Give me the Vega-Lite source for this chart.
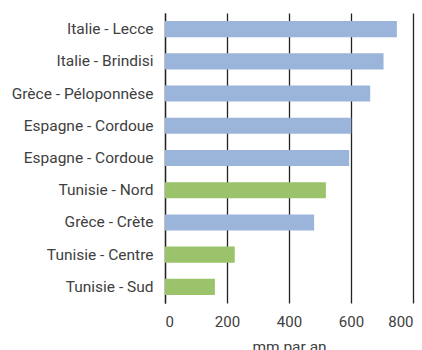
{
  "$schema": "https://vega.github.io/schema/vega-lite/v6.json",
  "width": 248,
  "height": 290,
  "autosize": {"type": "none"},
  "padding": {"left": 165, "top": 13, "right": 9, "bottom": 47},
  "background": "white",
  "config": {
    "view": {"stroke": null},
    "font": "Roboto",
    "axis": {"labelFont": "Roboto", "titleFont": "Roboto"}
  },
  "data": {
    "values": [
      {"lieu": "Italie - Lecce", "region": "Europe", "mm": 748},
      {"lieu": "Italie - Brindisi", "region": "Europe", "mm": 705},
      {"lieu": "Grèce - Péloponnèse", "region": "Europe", "mm": 662},
      {"lieu": "Espagne - Cordoue", "region": "Europe", "mm": 601},
      {"lieu": "Espagne - Cordoue 2", "region": "Europe", "mm": 594},
      {"lieu": "Tunisie - Nord", "region": "Tunisie", "mm": 519},
      {"lieu": "Grèce - Crète", "region": "Europe", "mm": 481},
      {"lieu": "Tunisie - Centre", "region": "Tunisie", "mm": 225},
      {"lieu": "Tunisie - Sud", "region": "Tunisie", "mm": 161}
    ]
  },
  "mark": {"type": "bar"},
  "encoding": {
    "y": {
      "field": "lieu",
      "type": "nominal",
      "sort": null,
      "scale": {"paddingInner": 0.5, "paddingOuter": 0.25},
      "axis": {
        "title": null,
        "labelExpr": "replace(datum.label, ' 2', '')",
        "labelFontSize": 15.5,
        "labelColor": "#404040",
        "labelPadding": 12,
        "ticks": false,
        "domain": true,
        "domainColor": "#222222",
        "domainWidth": 1.3,
        "grid": false
      }
    },
    "x": {
      "field": "mm",
      "type": "quantitative",
      "scale": {"domain": [0, 800], "nice": false},
      "axis": {
        "title": "mm par an",
        "titleFontSize": 15.5,
        "titleFontWeight": "normal",
        "titleColor": "#404040",
        "titlePadding": 10,
        "values": [0, 200, 400, 600, 800],
        "labelFontSize": 15,
        "labelColor": "#404040",
        "labelPadding": 11,
        "ticks": false,
        "domain": false,
        "grid": true,
        "gridColor": "#222222",
        "gridWidth": 1.3,
        "gridOpacity": 1
      }
    },
    "color": {
      "field": "region",
      "type": "nominal",
      "scale": {"domain": ["Europe", "Tunisie"], "range": ["#9bb4d9", "#9bc36b"]},
      "legend": null
    }
  }
}
